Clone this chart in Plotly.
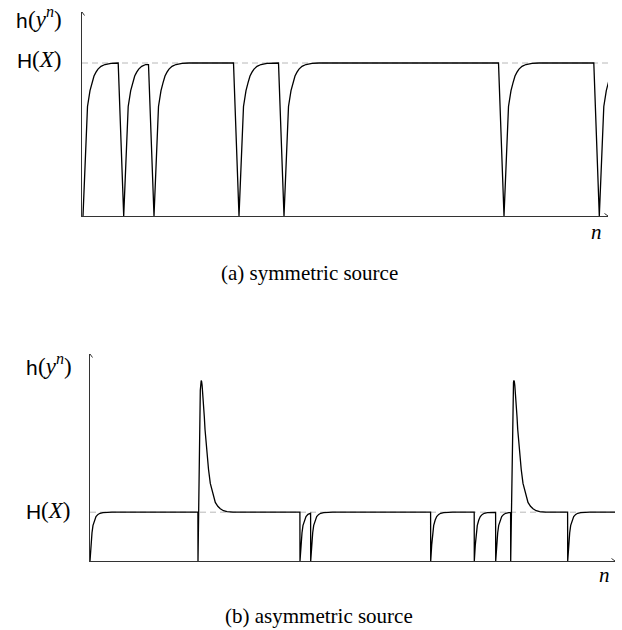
import plotly.graph_objects as go

# ---------------- data ----------------
# (a) symmetric source: positions of the resets (h drops to 0) and axis end, in units of n
top_resets = [0.2, 8.34, 14.4, 31.4, 40.4, 84.4, 103.46]
top_n_max = 105.2
# recovery of h(y^n)/H(X) after a reset (offset in n, value)
top_rise_offset = [0.0, 0.9, 1.4, 1.8, 2.2, 2.6, 3.0, 3.6, 4.4, 5.6, 7.0]
top_rise_value = [0.0, 0.716, 0.82, 0.87, 0.915, 0.94, 0.96, 0.978, 0.99, 0.997, 1.0]
top_drop_width = 1.1

# (b) asymmetric source: resets followed by a normal rise, resets followed by a spike
bot_rise_resets = [0.0, 42.0, 44.14, 68.14, 76.86, 81.14, 95.54]
bot_spike_resets = [21.6, 84.14]
bot_n_max = 105.0
bot_rise_offset = [0.0, 0.2, 0.4, 0.6, 0.9, 1.2, 1.6, 2.0, 2.6, 3.4, 4.4]
bot_rise_value = [0.0, 0.33, 0.58, 0.73, 0.84, 0.91, 0.955, 0.978, 0.992, 0.998, 1.0]
bot_spike_offset = [0.0, 0.46, 0.56, 0.64, 0.72, 0.82, 0.96, 1.12, 1.26, 1.4, 1.6, 1.8,
                    2.1, 2.46, 2.96, 3.46, 3.96, 4.46, 5.1, 5.8, 7.0]
bot_spike_value = [0.0, 3.5, 3.66, 3.70, 3.68, 3.60, 3.44, 3.22, 2.96, 2.7, 2.42, 2.2,
                   1.88, 1.59, 1.36, 1.20, 1.12, 1.07, 1.03, 1.01, 1.0]


def build_series(segments, n_max, drop_width):
    """segments: list of (reset position, offsets, values), sorted by position."""
    xs, ys = [], []
    for i, (start, offs, vals) in enumerate(segments):
        last_seg = i + 1 == len(segments)
        stop = n_max + 0.5 if last_seg else segments[i + 1][0] - drop_width
        last_v = vals[0]
        for o, v in zip(offs, vals):
            if start + o <= stop + 1e-9:
                xs.append(start + o)
                ys.append(v)
                last_v = v
        end = n_max if last_seg else stop
        if xs[-1] < end - 1e-9:
            xs.append(end)
            ys.append(last_v)
    return xs, ys


top_segments = [(r, top_rise_offset, top_rise_value) for r in top_resets]
top_x, top_y = build_series(top_segments, top_n_max, top_drop_width)

bot_segments = sorted(
    [(r, bot_rise_offset, bot_rise_value) for r in bot_rise_resets]
    + [(r, bot_spike_offset, bot_spike_value) for r in bot_spike_resets],
    key=lambda s: s[0],
)
bot_x, bot_y = build_series(bot_segments, bot_n_max, 0.02)

# ---------------- figure ----------------
W, Hpx = 622, 630
AX = "#333333"
SANS = "Liberation Sans"
SERIF = "Liberation Serif"


def px(x):
    return x / W


def py(y):
    return 1 - y / Hpx


fig = go.Figure()
fig.add_trace(go.Scatter(x=top_x, y=top_y, mode="lines",
                         line=dict(color="black", width=1.3),
                         xaxis="x", yaxis="y", hoverinfo="skip"))
fig.add_trace(go.Scatter(x=bot_x, y=bot_y, mode="lines",
                         line=dict(color="black", width=1.3),
                         xaxis="x2", yaxis="y2", hoverinfo="skip"))

axis_common = dict(showgrid=False, zeroline=False, showticklabels=False,
                   ticks="", showline=True, linecolor=AX, linewidth=1,
                   fixedrange=True)

top_y_max = 204 / 153
bot_y_max = 207 / 48.8

fig.update_layout(
    width=W, height=Hpx,
    margin=dict(l=0, r=0, t=0, b=0),
    paper_bgcolor="white", plot_bgcolor="white",
    showlegend=False,
    xaxis=dict(domain=[px(82), px(608)], range=[0, top_n_max], anchor="y", **axis_common),
    yaxis=dict(domain=[py(216), py(12)], range=[0, top_y_max], anchor="x", **axis_common),
    xaxis2=dict(domain=[px(90), px(615)], range=[0, bot_n_max], anchor="y2", **axis_common),
    yaxis2=dict(domain=[py(561), py(354)], range=[0, bot_y_max], anchor="x2", **axis_common),
)

# dashed H(X) reference lines
for xr, yr in (("x", "y"), ("x2", "y2")):
    fig.add_shape(type="line", xref=f"{xr} domain", yref=yr, x0=0, x1=1, y0=1, y1=1,
                  line=dict(color="#b8b8b8", width=1, dash="6px,4px"), layer="below")

# small open arrow heads at the ends of the axes
for xr, yr, xmax, ymax in (("x", "y", top_n_max, top_y_max), ("x2", "y2", bot_n_max, bot_y_max)):
    fig.add_shape(type="path", xref=xr, yref=yr, xsizemode="pixel", ysizemode="pixel",
                  xanchor=xmax, yanchor=0, path="M -3.5,2.5 L 0,0 L -3.5,-2.5",
                  line=dict(color=AX, width=1))
    fig.add_shape(type="path", xref=xr, yref=yr, xsizemode="pixel", ysizemode="pixel",
                  xanchor=0, yanchor=ymax, path="M -2.5,-3.5 L 0,0 L 2.5,-3.5",
                  line=dict(color=AX, width=1))


def text(t, x, y, xanchor, yanchor, size, family):
    fig.add_annotation(x=px(x), y=py(y), xref="paper", yref="paper", text=t,
                       showarrow=False, xanchor=xanchor, yanchor=yanchor, borderpad=0,
                       font=dict(family=family, size=size, color="black"))


def math_label(letter, rest, split_x, baseline):
    # sans-serif function letter followed by the serif italic argument
    text(letter, split_x + 1, baseline + 5, "right", "bottom", 21, SANS)
    text(rest, split_x - 1, baseline + 5, "left", "bottom", 23, SERIF)


arg_h = "(<i>y</i><sup><i>n</i></sup>)"
arg_H = "(<i>X</i>)"

math_label("h", arg_h, 28, 28)
math_label("H", arg_H, 32, 68)
math_label("h", arg_h, 38, 375)
math_label("H", arg_H, 41, 519)

text("<i>n</i>", 596, 232, "center", "middle", 21, SERIF)
text("<i>n</i>", 604, 575, "center", "middle", 21, SERIF)
text("(a) symmetric source", 309, 273, "center", "middle", 21, SERIF)
text("(b) asymmetric source", 318.5, 616, "center", "middle", 21, SERIF)

fig.write_html("out.html")
